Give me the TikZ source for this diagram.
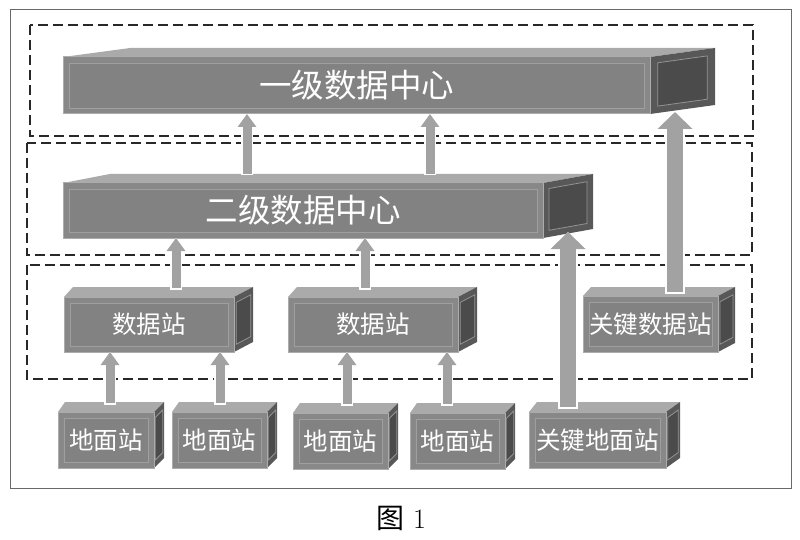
\documentclass[tikz,border=0pt]{standalone}
\usepackage{fontspec}
\newfontfamily\cjk{Noto Sans CJK SC}
\usetikzlibrary{arrows.meta,calc}
\definecolor{facegris}{RGB}{136,136,136}
\definecolor{panneau}{RGB}{130,130,130}
\definecolor{dessusgris}{RGB}{170,170,170}
\definecolor{cotegris}{RGB}{88,88,88}
\definecolor{flechegris}{RGB}{162,162,162}
\definecolor{trait}{RGB}{40,40,40}
\newcommand{\grand}{\fontsize{32.5}{34}\selectfont}
% bloc en relief : nom, x1, y1, x2, y2, profondeur, montee, decalage gauche, texte
\newcommand{\bloc}[9]{%
  \fill[dessus] (#2,#3) -- (#2+#8,#3-#7) -- (#4+#6,#3-#7) -- (#4,#3) -- cycle;
  \coordinate (#1-a) at (#4,#3);
  \coordinate (#1-b) at (#4+#6,#3-#7);
  \coordinate (#1-c) at (#4+#6,#5-#7);
  \coordinate (#1-d) at (#4,#5);
  \fill[cote] (#1-a) -- (#1-b) -- (#1-c) -- (#1-d) -- cycle;
  \filldraw[cotebord] ($(#1-a)!0.12!(#1-c)$) -- ($(#1-b)!0.12!(#1-d)$) -- ($(#1-c)!0.12!(#1-a)$) -- ($(#1-d)!0.12!(#1-b)$) -- cycle;
  \node[face, minimum width={(#4-#2)*1pt}, minimum height={(#5-#3)*1pt}] (#1) at ({(#2+#4)/2},{(#3+#5)/2}) {};
  \filldraw[biseau] ([shift={(6,6)}]#1.north west) rectangle ([shift={(-6,-6)}]#1.south east);
  \node[texte] at (#1) {#9};
}

\begin{document}
\begin{tikzpicture}[x=1pt,y=-1pt,
  cadre/.style={draw=trait, line width=2.3pt, dash pattern=on 10pt off 5pt},
  dessus/.style={fill=dessusgris},
  cote/.style={fill=cotegris},
  cotebord/.style={fill=cotegris!85!black, draw=gray!85, line width=0.8pt},
  face/.style={draw=gray!65, line width=1pt, fill=facegris, inner sep=0pt, outer sep=0pt},
  biseau/.style={draw=gray!75, line width=0.9pt, fill=panneau},
  texte/.style={text=white, inner sep=0pt, font=\cjk\fontsize{24.5}{26}\selectfont},
  fleche/.style={draw=flechegris, line width=9pt, -{Triangle[width=18pt,length=13pt]}},
  contour/.style={draw=white, line width=12pt, -{Triangle[width=24pt,length=16pt]}, shorten <=-1.5pt},
  large/.style={draw=flechegris, line width=16pt, -{Triangle[width=34pt,length=17pt]}},
  contourlarge/.style={draw=white, line width=20pt, -{Triangle[width=41pt,length=21pt]}, shorten <=-2pt}]
\useasboundingbox (0,0) rectangle (800,540);
\draw[trait!70, line width=1pt] (10,10) rectangle (791,488);
\draw[cadre] (30,25) rectangle (753,136);
\draw[cadre] (27,143) rectangle (752,255);
\draw[cadre] (27,265) rectangle (752,379);

\bloc{e1}{63}{57}{650}{114}{65}{9}{67}{\grand 一级数据中心}
\bloc{e2}{63}{183}{543}{238}{50}{9}{47}{\grand 二级数据中心}
\bloc{d1}{64}{297}{234}{352}{19}{10}{9}{数据站}
\bloc{d2}{288}{297}{458}{352}{19}{10}{9}{数据站}
\bloc{dk}{583}{296}{718}{352}{17}{9}{8}{关键数据站}
\bloc{s1}{58}{412}{154}{468}{10}{10}{7}{地面站}
\bloc{s2}{172}{412}{267}{468}{10}{10}{7}{地面站}
\bloc{s3}{293}{413}{388}{469}{10}{10}{7}{地面站}
\bloc{s4}{410}{413}{505}{469}{10}{10}{7}{地面站}
\bloc{sk}{529}{412}{666}{468}{14}{10}{8}{关键地面站}

\coordinate (p1) at (247,174);
\coordinate (p2) at (430,174);
\coordinate (p3) at (176,288);
\coordinate (p4) at (365,288);
\coordinate (q1) at (110,403);
\coordinate (q2) at (220,403);
\coordinate (q3) at (347,404);
\coordinate (q4) at (447,404);
\coordinate (k1) at (675,292);
\coordinate (k2) at (568,407);

\foreach \p/\n in {p1/e1,p2/e1,p3/e2,p4/e2,q1/d1,q2/d1,q3/d2,q4/d2}{
  \draw[contour] (\p) -- (\p |- \n.south);
  \draw[fleche] (\p) -- (\p |- \n.south);
}
\draw[contourlarge, shorten >=7pt] (k1) -- (k1 |- e1-c);
\draw[large, shorten >=7pt] (k1) -- (k1 |- e1-c);
\draw[contourlarge, shorten >=3pt] (k2) -- (k2 |- e2-c);
\draw[large, shorten >=3pt] (k2) -- (k2 |- e2-c);

\node[font=\fontsize{28}{30}\selectfont] (titre) at (401,518) {{\cjk 图}\hspace{9pt}1};
\end{tikzpicture}
\end{document}
